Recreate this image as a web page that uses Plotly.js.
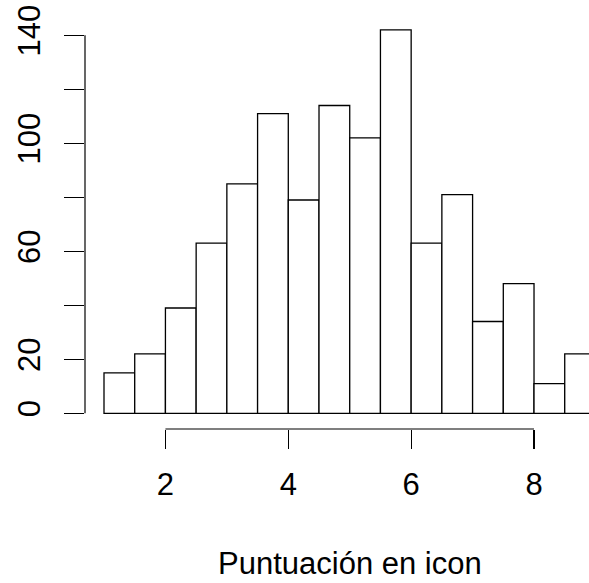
<!DOCTYPE html>
<html>
<head>
<meta charset="utf-8">
<script src="https://cdn.plot.ly/plotly-3.0.1.min.js"></script>
<style>html,body{margin:0;padding:0;background:#fff;}#chart{width:589px;height:583px;}</style>
</head>
<body>
<div id="chart"></div>
<script>
// Histogram bin edges (width 0.5) and counts
const binStarts = [1, 1.5, 2, 2.5, 3, 3.5, 4, 4.5, 5, 5.5, 6, 6.5, 7, 7.5, 8, 8.5];
const counts    = [15, 22, 39, 63, 85, 111, 79, 114, 102, 142, 63, 81, 34, 48, 11, 22];
const binWidth = 0.5;

const xTickVals = [2, 4, 6, 8];
const xTickText = ['2', '4', '6', '8'];
const yTickVals = [0, 20, 40, 60, 80, 100, 120, 140];
const yTickText = ['0', '20', '', '60', '', '100', '', '140'];
const xTitle = 'Puntuación en icon';

const mids = binStarts.map(b => b + binWidth / 2);

const trace = {
  type: 'bar',
  x: mids,
  y: counts,
  width: binStarts.map(() => binWidth),
  marker: { color: '#ffffff', line: { color: '#000000', width: 1.3 } },
  hoverinfo: 'skip'
};

const font = { family: 'Liberation Sans, Arial, sans-serif', size: 31, color: '#000' };

const layout = {
  width: 589, height: 583,
  margin: { l: 85, r: 0, t: 20, b: 154, pad: 0 },
  paper_bgcolor: '#fff', plot_bgcolor: '#fff',
  showlegend: false,
  bargap: 0,
  font: font,
  xaxis: {
    range: [0.6907, 8.895],
    tickmode: 'array', tickvals: xTickVals, ticktext: xTickText,
    ticks: 'outside', ticklen: 19, tickwidth: 1.2, tickcolor: '#000',
    showgrid: false, zeroline: false, showline: false,
    tickfont: font, ticklabelstandoff: 9
  },
  yaxis: {
    range: [-5.81, 145.67],
    tickmode: 'array', tickvals: yTickVals, ticktext: yTickText,
    ticks: 'outside', ticklen: 20, tickwidth: 1.2, tickcolor: '#000',
    showgrid: false, zeroline: false, showline: false,
    tickangle: -90, tickfont: font, ticklabelstandoff: 12
  },
  shapes: [
    { type: 'line', xref: 'x', yref: 'paper', x0: xTickVals[0], x1: xTickVals[xTickVals.length - 1], y0: 0, y1: 0,
      line: { color: '#000', width: 1.2 } },
    { type: 'line', xref: 'paper', yref: 'y', x0: 0, x1: 0, y0: yTickVals[0], y1: yTickVals[yTickVals.length - 1],
      line: { color: '#000', width: 1.2 } }
  ],
  annotations: [
    { text: xTitle, xref: 'paper', yref: 'paper', x: 0.5258, y: -0.330,
      xanchor: 'center', yanchor: 'middle', showarrow: false, font: font }
  ]
};

Plotly.newPlot('chart', [trace], layout, { displayModeBar: false, staticPlot: true });
</script>
</body>
</html>
